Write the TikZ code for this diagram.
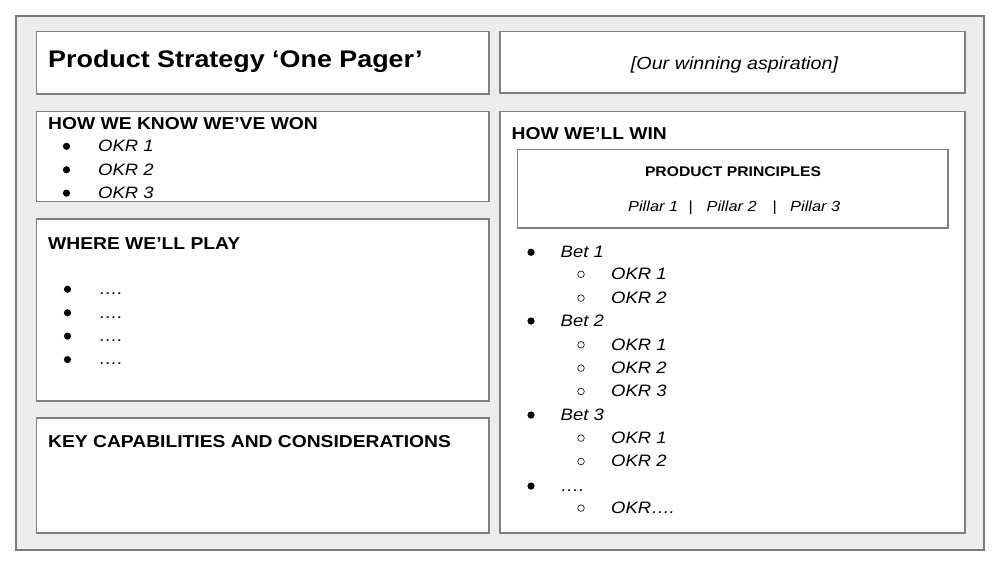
\documentclass[tikz,border=0pt]{standalone}
\usepackage{fontspec}
\setmainfont{Liberation Sans}[FakeStretch=1.12]
\begin{document}
\begin{tikzpicture}[x=1pt,y=-1pt,
  panel/.style={draw=black!50,line width=1.4pt,fill=white},
  outer/.style={draw=black!52,line width=1.4pt,fill=black!7},
  txt/.style={anchor=base west,inner sep=0pt,text=black},
  ctxt/.style={anchor=base,inner sep=0pt,text=black},
  title/.style={txt,font=\fontsize{24}{28}\selectfont\bfseries},
  head/.style={txt,font=\fontsize{17.2}{20}\selectfont\bfseries},
  item/.style={txt,font=\fontsize{16.5}{20}\selectfont\itshape},
  pil/.style={txt,font=\fontsize{14.6}{18}\selectfont\itshape},
  sep/.style={txt,font=\fontsize{14.6}{18}\selectfont},
  dot/.style={fill=black},
  ring/.style={draw=black,line width=0.6pt}]
\useasboundingbox (0,0) rectangle (1000,563);
\fill[white] (0,0) rectangle (1000,563);
% outer panel
\path[outer] (16,16) rectangle (984,550);
% boxes
\path[panel] (36.5,31.5) rectangle (489,94);
\path[panel] (500,31.5) rectangle (965,93);
\path[panel] (36.5,111.5) rectangle (489,201.5);
\path[panel] (36.5,219) rectangle (489,401);
\path[panel] (36.5,418) rectangle (489,533);
\path[panel] (500,111.5) rectangle (965,533);
\path[panel] (517.5,149.5) rectangle (948,228);
% title and aspiration
\node[title] (ttl) at (48,67) {Product Strategy ‘One Pager’};
\node[ctxt,font=\fontsize{17.6}{20}\selectfont\itshape] (asp) at (734.5,69) {[Our winning aspiration]};
% how we know
\node[head] (hk) at (48,129.3) {HOW WE KNOW WE’VE WON};
\foreach \i/\y in {1/151.5,2/175,3/198.3}{
  \fill[dot] (66.5,\y-5.2) circle (3.6);
  \node[item] (hk\i) at (98,\y) {OKR \i};
}
% where we'll play
\node[head] (wp) at (48,249.3) {WHERE WE’LL PLAY};
\foreach \i/\y in {1/294.5,2/318,3/341.3,4/364.8}{
  \fill[dot] (67.5,\y-5.2) circle (3.6);
  \node[item] (wp\i) at (99,\y) {\char"2026.};
}
% key capabilities
\node[head] (kc) at (48,447.7) {KEY CAPABILITIES AND CONSIDERATIONS};
% how we'll win
\node[head] (hw) at (511.5,139.7) {HOW WE’LL WIN};
\node[ctxt,font=\fontsize{14}{17}\selectfont\bfseries] (pp) at (733,176.7) {PRODUCT PRINCIPLES};
\node[pil] (p1) at (628,211) {Pillar 1};
\node[sep] (s1) at (688.3,211) {|};
\node[pil] (p2) at (706.5,211) {Pillar 2};
\node[sep] (s2) at (772.3,211) {|};
\node[pil] (p3) at (790,211) {Pillar 3};
% bets
\foreach \n/\t/\y in {b1/Bet 1/257.3,b2/Bet 2/326,b3/Bet 3/420,b4/\char"2026./491}{
  \fill[dot] (531,\y-5) circle (3.6);
  \node[item] (\n) at (560.5,\y) {\t};
}
\foreach \n/\t/\y in {o11/OKR 1/279.5,o12/OKR 2/303.3,o21/OKR 1/350,o22/OKR 2/373.3,o23/OKR 3/396.7,o31/OKR 1/443.3,o32/OKR 2/466.7,o41/OKR\char"2026./513.3}{
  \draw[ring] (581,\y-5.2) circle (3.3);
  \node[item] (\n) at (611,\y) {\t};
}
\end{tikzpicture}
\end{document}
